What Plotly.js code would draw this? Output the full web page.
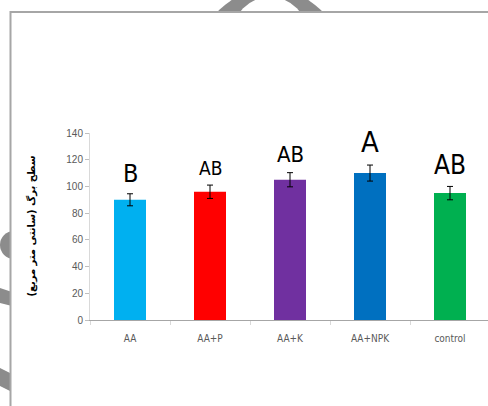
<!DOCTYPE html>
<html>
<head>
<meta charset="utf-8">
<script src="https://cdn.plot.ly/plotly-3.0.1.min.js"></script>
<style>
html,body{margin:0;padding:0;overflow:hidden;background:#fff;}
#chart{width:491px;height:406px;}
</style>
</head>
<body>
<div id="chart"></div>
<script>
// ---- data ----
var categories = ["AA", "AA+P", "AA+K", "AA+NPK", "control"];
var leafArea = [90, 96, 105, 110, 95];
var errors = [4.5, 5, 5.3, 6, 5];
var letters = ["B", "AB", "AB", "A", "AB"];
var letterSizes = [25, 19, 22, 29, 26];
var barColors = ["#00B0F0", "#FF0000", "#7030A0", "#0070C0", "#00B050"];
var yTickVals = [0, 20, 40, 60, 80, 100, 120, 140];
var yTitle = "سطح برگ (سانتی متر مربع)";

// ---- layout geometry ----
var W = 491, H = 406, L = 90, R = 1, T = 133, B = 86;
var PW = W - L - R, PH = H - T - B;
function px(x) { return (x - L) / PW; }
function py(y) { return (H - B - y) / PH; }

var condensed = "'DejaVu Sans Condensed', 'Liberation Sans Narrow', 'Liberation Sans', sans-serif";
var plain = "'Liberation Sans', Arial, sans-serif";
var grey = "#8c8c8c";
var shapes = [
  {type: "circle", xref: "paper", yref: "paper", layer: "below",
   x0: px(198), x1: px(342), y0: py(-11), y1: py(133), fillcolor: grey, line: {width: 0}},
  {type: "circle", xref: "paper", yref: "paper", layer: "below",
   x0: px(232), x1: px(308), y0: py(-3), y1: py(73), fillcolor: "#ffffff", line: {width: 0}},
  {type: "circle", xref: "paper", yref: "paper", layer: "below",
   x0: px(0), x1: px(28), y0: py(231), y1: py(259), fillcolor: grey, line: {width: 0}},
  {type: "path", xref: "paper", yref: "paper", layer: "below",
   path: "M " + px(0) + "," + py(288) + " L " + px(12) + "," + py(292) + " L " + px(12) + "," + py(306) + " L " + px(0) + "," + py(303) + " Z",
   fillcolor: grey, line: {width: 0}},
  {type: "path", xref: "paper", yref: "paper", layer: "below",
   path: "M " + px(0) + "," + py(368) + " L " + px(12) + "," + py(374) + " L " + px(12) + "," + py(392) + " L " + px(0) + "," + py(386) + " Z",
   fillcolor: grey, line: {width: 0}},
  {type: "rect", xref: "paper", yref: "paper", layer: "below",
   x0: px(10.5), x1: px(W + 10), y0: py(H + 10), y1: py(12),
   fillcolor: "#ffffff", line: {color: "#a6a6a6", width: 2}}
];

var annotations = categories.map(function (c, i) {
  return {
    x: c, y: leafArea[i] + errors[i], xref: "x", yref: "y",
    text: letters[i], showarrow: false, yanchor: "bottom", yshift: 4,
    font: {family: condensed, size: letterSizes[i], color: "#000"}
  };
});
annotations.push({
  xref: "paper", yref: "paper", x: px(31), y: 0.5, textangle: -90,
  xanchor: "center", yanchor: "middle", showarrow: false, text: yTitle,
  font: {family: "'DejaVu Sans', sans-serif", size: 10, color: "#000", weight: "bold"}
});

var trace = {
  type: "bar",
  x: categories,
  y: leafArea,
  width: 0.4,
  marker: {color: barColors, line: {width: 0}},
  error_y: {type: "data", array: errors, visible: true, color: "#000", thickness: 1, width: 3},
  hoverinfo: "skip"
};

var layout = {
  width: W, height: H,
  margin: {l: L, r: R, t: T, b: B, pad: 0},
  paper_bgcolor: "#ffffff",
  plot_bgcolor: "rgba(0,0,0,0)",
  showlegend: false,
  xaxis: {
    type: "category", range: [-0.5, 4.5], fixedrange: true,
    showline: true, linecolor: "#a6a6a6", linewidth: 1,
    ticks: "outside", tickson: "boundaries", ticklen: 4, tickcolor: "#d9d9d9",
    tickfont: {family: condensed, size: 10, color: "#595959"},
    ticklabelstandoff: 9,
    showgrid: false, zeroline: false
  },
  yaxis: {
    range: [0, 140], tickvals: yTickVals, fixedrange: true,
    showline: true, linecolor: "#d9d9d9", linewidth: 1,
    ticks: "outside", ticklen: 4, tickcolor: "#bfbfbf",
    tickfont: {family: plain, size: 10, color: "#595959"},
    showgrid: false, zeroline: false
  },
  shapes: shapes,
  annotations: annotations
};

Plotly.newPlot("chart", [trace], layout, {displayModeBar: false, staticPlot: true});
</script>
</body>
</html>
